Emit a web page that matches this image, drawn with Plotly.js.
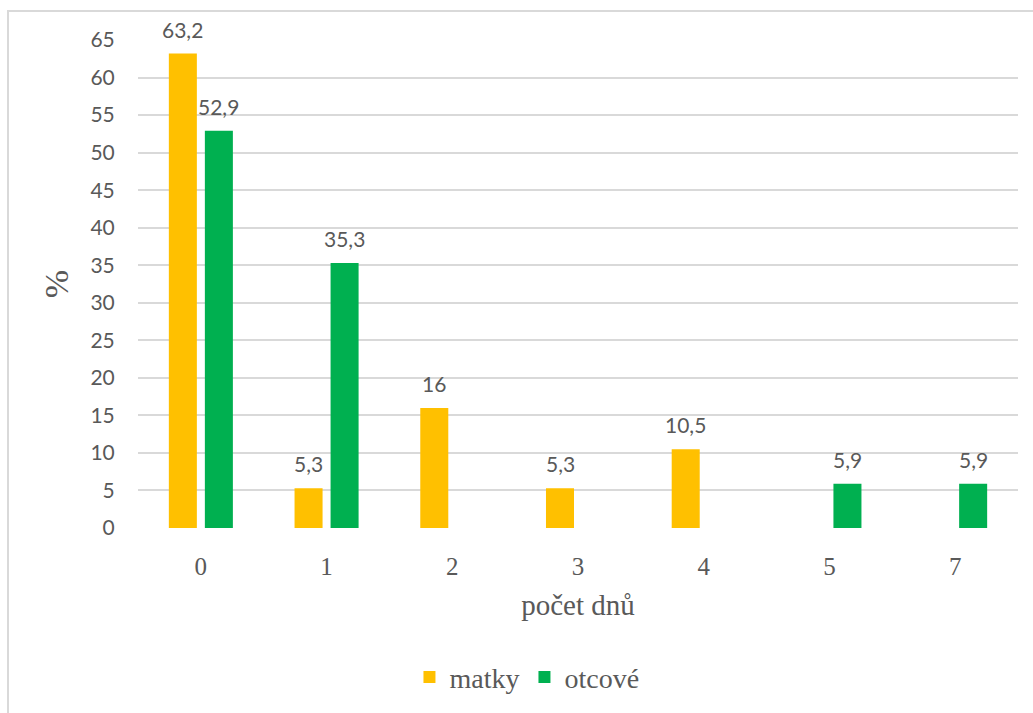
<!DOCTYPE html>
<html>
<head>
<meta charset="utf-8">
<script src="https://cdn.plot.ly/plotly-3.0.1.min.js"></script>
<style>
  html, body { margin: 0; padding: 0; background: #ffffff; }
  #wrap { position: relative; width: 1033px; height: 713px; overflow: hidden; }
  #chart { position: absolute; left: 0; top: 0; width: 1033px; height: 713px; }
  #frame {
    position: absolute; left: 7px; top: 10px; right: -10px; bottom: -10px;
    border-left: 2px solid #d9d9d9; border-top: 2px solid #d9d9d9;
    pointer-events: none;
  }
</style>
</head>
<body>
<div id="wrap">
  <div id="chart"></div>
  <div id="frame"></div>
</div>
<script>
// Počet dnů – podíl matek a otců (v %)
const categories = ['0', '1', '2', '3', '4', '5', '7'];
const matky  = [63.2, 5.3, 16, 5.3, 10.5, null, null];
const otcove = [52.9, 35.3, null, null, null, 5.9, 5.9];
const seriesNames = ['matky', 'otcové'];
const yTicks = [0, 5, 10, 15, 20, 25, 30, 35, 40, 45, 50, 55, 60, 65];

const YELLOW = '#FFC000';
const GREEN = '#00B050';
const TEXT = '#595959';
const SANS = 'Lato, "Liberation Sans", sans-serif';
const SERIF = '"Liberation Serif", "DejaVu Serif", serif';

const fmt = v => String(v).replace('.', ',');

const traces = [
  { type: 'bar', name: seriesNames[0], x: categories, y: matky,
    marker: { color: YELLOW }, hoverinfo: 'skip' },
  { type: 'bar', name: seriesNames[1], x: categories, y: otcove,
    marker: { color: GREEN }, hoverinfo: 'skip' }
];

// value labels above each bar, shifted to the bar's slot within the group
// (x given as the category index so numeric-looking labels are not misread)
const slotShift = 18;
const annotations = [];
[matky, otcove].forEach((vals, s) => {
  vals.forEach((v, i) => {
    if (v === null) return;
    annotations.push({
      x: i, y: v, xref: 'x', yref: 'y',
      text: fmt(v), showarrow: false,
      xanchor: 'center', yanchor: 'bottom',
      xshift: s === 0 ? -slotShift : slotShift, yshift: 10,
      font: { family: SANS, size: 21, color: TEXT }
    });
  });
});

const layout = {
  width: 1033, height: 713,
  paper_bgcolor: 'rgba(0,0,0,0)', plot_bgcolor: 'rgba(0,0,0,0)',
  margin: { l: 138, r: 15, t: 40, b: 185, autoexpand: false },
  barmode: 'group', bargap: 0.427, bargroupgap: 0.222,
  showlegend: true,
  legend: {
    orientation: 'h', xref: 'paper', x: 0.442, xanchor: 'center',
    yref: 'container', y: 0.05, yanchor: 'middle',
    font: { family: SERIF, size: 28, color: TEXT },
    itemwidth: 30, traceorder: 'normal'
  },
  xaxis: {
    type: 'category', range: [-0.5, categories.length - 0.5],
    showgrid: false, zeroline: false, showline: false, automargin: false,
    ticks: 'outside', ticklen: 16, tickcolor: 'rgba(0,0,0,0)',
    tickfont: { family: SERIF, size: 25, color: TEXT },
    title: { text: 'počet dnů', standoff: 15, font: { family: SERIF, size: 29, color: TEXT } }
  },
  yaxis: {
    range: [0, 65], tickvals: yTicks, ticktext: yTicks.map(String),
    showgrid: true, gridcolor: '#d9d9d9', gridwidth: 2,
    zeroline: false, showline: false, automargin: false,
    ticks: 'outside', ticklen: 18, tickcolor: 'rgba(0,0,0,0)',
    tickfont: { family: SANS, size: 21, color: TEXT },
    title: { text: '%', standoff: 11, font: { family: SERIF, size: 34, color: TEXT } }
  },
  annotations: annotations
};

Plotly.newPlot('chart', traces, layout, { staticPlot: true, displayModeBar: false });
</script>
</body>
</html>
